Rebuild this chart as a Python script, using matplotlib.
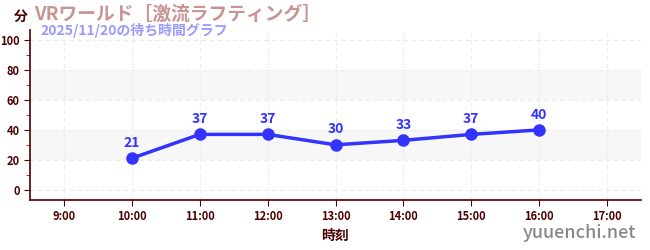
import matplotlib
matplotlib.use("Agg")
import matplotlib.pyplot as plt
from matplotlib.ticker import MultipleLocator

plt.rcParams['font.family'] = ['Noto Sans CJK JP', 'DejaVu Sans']

# データ
hours = [10, 11, 12, 13, 14, 15, 16]
waits = [21, 37, 37, 30, 33, 37, 40]
tick_hours = [9, 10, 11, 12, 13, 14, 15, 16, 17]
tick_labels = [f"{h}:00" for h in tick_hours]

axis_col = '#4d0000'
line_col = '#3333ff'

fig = plt.figure(figsize=(6.5, 2.5), dpi=100)
ax = fig.add_axes([30 / 650, 0.2, 611 / 650, 0.68])

ax.set_xlim(8.5, 17.5)
ax.set_ylim(-7, 107)

# 背景の帯
for lo in (20, 60):
    ax.axhspan(lo, lo + 20, color='#f7f7f7', zorder=0, lw=0)

ax.grid(True, color='#ececec', linestyle=(0, (4, 3)), linewidth=0.8)
ax.set_axisbelow(True)

ax.plot(hours, waits, color=line_col, linewidth=2.5, marker='o',
        markersize=8, zorder=3)
for h, w in zip(hours, waits):
    ax.annotate(str(w), (h, w), xytext=(0, 6), textcoords='offset points',
                ha='center', va='bottom', fontsize=10, fontweight='bold',
                color=line_col)

ax.set_xticks(tick_hours)
ax.set_xticklabels(tick_labels)
ax.set_yticks([0, 20, 40, 60, 80, 100])
ax.yaxis.set_minor_locator(MultipleLocator(10))
ax.tick_params(axis='both', colors=axis_col, labelsize=8, length=4)
ax.tick_params(axis='y', which='minor', colors='#cc0000', length=3)
for lab in ax.get_xticklabels() + ax.get_yticklabels():
    lab.set_fontweight('bold')
    lab.set_color(axis_col)

for s in ('top', 'right'):
    ax.spines[s].set_visible(False)
for s in ('left', 'bottom'):
    ax.spines[s].set_color(axis_col)
    ax.spines[s].set_linewidth(1.2)

ax.set_xlabel('時刻', fontsize=10, fontweight='bold', color=axis_col, labelpad=4)

fig.text(14 / 650, 1 - 17 / 250, '分', fontsize=10, fontweight='bold',
         color=axis_col, ha='left', va='center')
fig.text(34 / 650, 1 - 14 / 250, 'VRワールド［激流ラフティング］', fontsize=13.5,
         fontweight='bold', color='#c89494', ha='left', va='center')
fig.text(40 / 650, 1 - 31 / 250, '2025/11/20の待ち時間グラフ', fontsize=10,
         fontweight='bold', color='#9999ff', ha='left', va='center')
fig.text(636 / 650, 1 - 233 / 250, 'yuuenchi.net', fontsize=13,
         fontweight='medium', color='#888888', ha='right', va='center')

fig.savefig('out.png', dpi=100)
